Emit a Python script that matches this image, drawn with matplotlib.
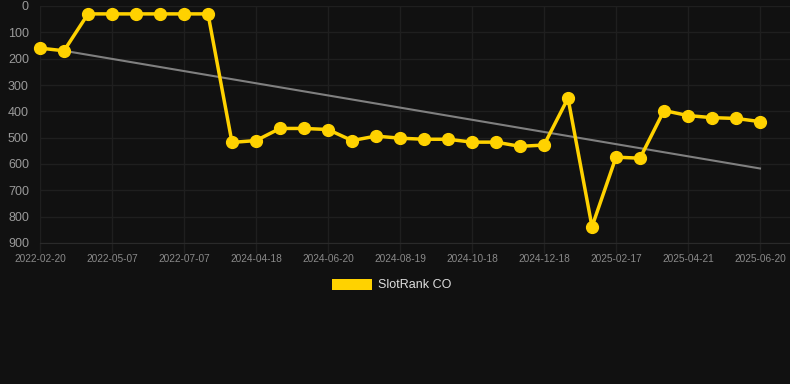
import matplotlib
matplotlib.use("Agg")
import matplotlib.pyplot as plt
from matplotlib.patches import Rectangle

plt.rcParams['font.family'] = ['Liberation Sans', 'DejaVu Sans']

dates = ["2022-02-20", "", "", "2022-05-07", "", "", "2022-07-07", "", "", "2024-04-18",
         "", "", "2024-06-20", "", "", "2024-08-19", "", "", "2024-10-18", "", "",
         "2024-12-18", "", "", "2025-02-17", "", "", "2025-04-21", "", "", "2025-06-20"]
ranks = [160, 170, 30, 30, 30, 30, 30, 30, 518, 511, 465, 465, 469, 511, 494, 502,
         506, 506, 517, 517, 533, 528, 350, 838, 574, 578, 397, 416, 424, 427, 439]
trend_idx = [1, 30]
trend_vals = [170, 617]
yticks = [0, 100, 200, 300, 400, 500, 600, 700, 800, 900]
series_name = "SlotRank CO"

bg = "#111111"
gold = "#FFD200"

fig = plt.figure(figsize=(7.9, 3.84), dpi=100, facecolor=bg)
W, H = 790, 384
ax = fig.add_axes([40 / W, 1 - 243 / H, (790 - 40) / W, (243 - 6) / H], facecolor=bg)

x = list(range(len(ranks)))
ax.plot(trend_idx, trend_vals, color="#808080", lw=1.5, zorder=2)
ax.plot(x, ranks, color=gold, lw=2.5, marker="o", ms=8.5, mfc=gold, mec=gold,
        zorder=3, clip_on=False)

ax.set_ylim(900, 0)
ax.set_xlim(0, 31.25)
ax.set_yticks(yticks)
tick_pos = [i for i, d in enumerate(dates) if d]
ax.set_xticks(tick_pos)
ax.set_xticklabels([dates[i] for i in tick_pos])

ax.grid(True, color="#1f1f1f", lw=1.0)
ax.set_axisbelow(True)
for s in ax.spines.values():
    s.set_visible(False)
ax.spines["bottom"].set_visible(True)
ax.spines["bottom"].set_color("#2a2a2a")
ax.tick_params(axis="y", length=0, pad=8, labelsize=9, labelcolor="#9a9a9a")
ax.tick_params(axis="x", length=7, width=1, color="#1f1f1f", pad=1,
               labelsize=7.3, labelcolor="#8a8a8a")

# legend
fig.patches.append(Rectangle((332 / W, 1 - 290 / H), 40 / W, 11 / H,
                             transform=fig.transFigure, facecolor=gold, edgecolor="none"))
fig.text(378 / W, 1 - 285 / H, series_name, color="#dddddd", fontsize=9, va="center", ha="left")

fig.savefig("out.png", dpi=100, facecolor=bg)
